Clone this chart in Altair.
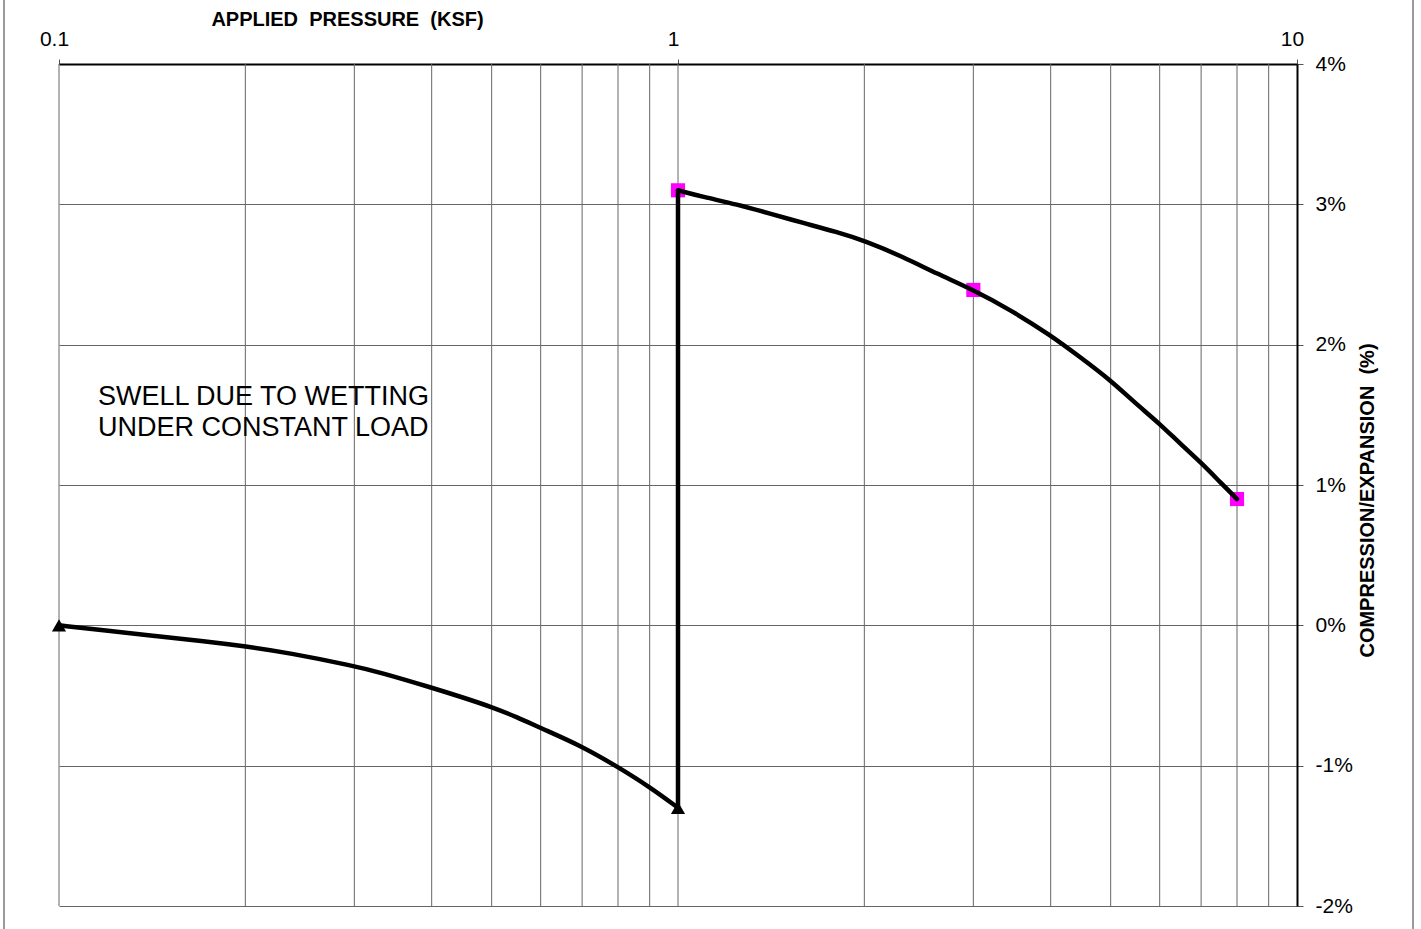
import altair as alt
import pandas as pd

FONT = "Liberation Sans"
NBSP = "\u00a0"

# Loading curve before wetting (pressure in ksf, strain in %)
lower_p = [0.1, 0.1187, 0.1429, 0.1721, 0.2, 0.2346, 0.3, 0.33, 0.4, 0.45,
           0.5, 0.5487, 0.6, 0.7, 0.8, 0.9, 1.0]
lower_s = [0.0, -0.036, -0.076, -0.114, -0.150, -0.195, -0.29, -0.335, -0.444, -0.515,
           -0.582, -0.653, -0.732, -0.862, -1.010, -1.152, -1.30]

# Loading curve after wetting
upper_p = [1.0, 1.1, 1.244, 1.408, 1.594, 1.805, 2.0, 2.312, 2.618, 3.0,
           3.438, 4.0, 4.461, 5.0, 5.44, 6.0, 6.471, 7.0, 7.508, 8.0]
upper_s = [3.10, 3.052, 3.00, 2.934, 2.867, 2.803, 2.741, 2.625, 2.506, 2.39,
           2.25, 2.067, 1.912, 1.746, 1.595, 1.437, 1.295, 1.159, 1.021, 0.90]

# Measured points
dry_p = [0.1, 1.0]
dry_s = [0.0, -1.30]
wet_p = [1.0, 3.0, 8.0]
wet_s = [3.10, 2.39, 0.90]

# Swell at constant load
swell_p = [1.0]
swell_from = [-1.30]
swell_to = [3.10]

# Grid and ticks
grid_p = [0.1, 0.2, 0.3, 0.4, 0.5, 0.6, 0.7, 0.8, 0.9,
          1, 2, 3, 4, 5, 6, 7, 8, 9]
x_labels = [0.1, 1, 10]
y_ticks = [-2, -1, 0, 1, 2, 3, 4]

x_title = NBSP.join(["APPLIED", "", "PRESSURE", "", "(KSF)"])
y_title = "COMPRESSION/EXPANSION" + NBSP + NBSP + "(%)"

note_lines = ["SWELL DUE TO WETTING", "UNDER CONSTANT LOAD"]
note_p = [0.1156, 0.1156]
note_s = [1.625, 1.404]

W, H = 1238, 842

x_scale = alt.Scale(type="log", domain=[0.1, 10], nice=False)
y_scale = alt.Scale(domain=[-2, 4], nice=False, zero=False)

x_axis = alt.Axis(
    orient="top", values=x_labels, format="~g", grid=False,
    domainColor="black", domainWidth=2, tickColor="#555555", tickSize=5,
    labelPadding=10, labelOffset=-5, labelFontSize=21, labelFont=FONT,
    labelColor="black", labelFlush=False, labelOverlap=False, labelBound=False,
    title=x_title, titleFont=FONT, titleFontSize=20,
    titleFontWeight="bold", titleColor="black", titleX=288, titleY=-45,
    titleAlign="center", titleBaseline="middle", titleAngle=0,
)
y_axis = alt.Axis(
    orient="right", values=y_ticks, labelExpr="datum.value + '%'",
    grid=True, gridColor="#666666", gridWidth=1,
    domainColor="black", domainWidth=2, tickColor="#555555", tickSize=6,
    labelPadding=12, labelFontSize=21, labelFont=FONT, labelColor="black",
    labelFlush=False, labelOverlap=False, labelBound=False,
    title=y_title, titleFont=FONT, titleFontSize=20,
    titleFontWeight="bold", titleColor="black", titleX=70, titleY=436,
    titleAlign="center", titleBaseline="middle", titleAngle=270,
)

xe = alt.X("p:Q", scale=x_scale, axis=x_axis)
ye = alt.Y("s:Q", scale=y_scale, axis=y_axis)

grid_df = pd.DataFrame({"p": grid_p})
grid = alt.Chart(grid_df).mark_rule(color="#666666", strokeWidth=1).encode(x=xe)

lower = alt.Chart(pd.DataFrame({"p": lower_p, "s": lower_s})).mark_line(
    color="black", strokeWidth=4.5, interpolate="basis", strokeCap="round"
).encode(x=xe, y=ye)

upper = alt.Chart(pd.DataFrame({"p": upper_p, "s": upper_s})).mark_line(
    color="black", strokeWidth=4.5, interpolate="basis", strokeCap="round"
).encode(x=xe, y=ye)

swell = alt.Chart(pd.DataFrame({"p": swell_p, "s": swell_from, "s2": swell_to})).mark_rule(
    color="black", strokeWidth=4.5
).encode(x=xe, y=ye, y2="s2:Q")

dry_pts = alt.Chart(pd.DataFrame({"p": dry_p, "s": dry_s})).mark_point(
    shape="triangle-up", filled=True, color="black", size=200, opacity=1
).encode(x=xe, y=ye)

wet_pts = alt.Chart(pd.DataFrame({"p": wet_p, "s": wet_s})).mark_point(
    shape="square", filled=True, color="#FF00FF", size=200, opacity=1
).encode(x=xe, y=ye)

note = alt.Chart(pd.DataFrame({"p": note_p, "s": note_s, "t": note_lines})).mark_text(
    align="left", baseline="middle", font=FONT, fontSize=27, color="black"
).encode(x=xe, y=ye, text="t:N")

frame_df = pd.DataFrame({"k": [0]})
frame_left = alt.Chart(frame_df).mark_rule(color="#9a9a9a", strokeWidth=2).encode(
    x=alt.value(-55), y=alt.value(-64), y2=alt.value(H + 23)
)
frame_right = alt.Chart(frame_df).mark_rule(color="#9a9a9a", strokeWidth=2).encode(
    x=alt.value(1354), y=alt.value(-64), y2=alt.value(H + 23)
)

chart = alt.layer(
    grid, wet_pts, lower, swell, upper, dry_pts, note, frame_left, frame_right
).properties(
    width=W, height=H,
    autosize=alt.AutoSizeParams(type="none"),
    padding={"left": 59, "top": 64, "right": 124, "bottom": 23},
    background="white",
).configure_view(strokeWidth=0).configure_text(font=FONT)

chart.save("out.html", embed_options={"renderer": "svg", "actions": False})
